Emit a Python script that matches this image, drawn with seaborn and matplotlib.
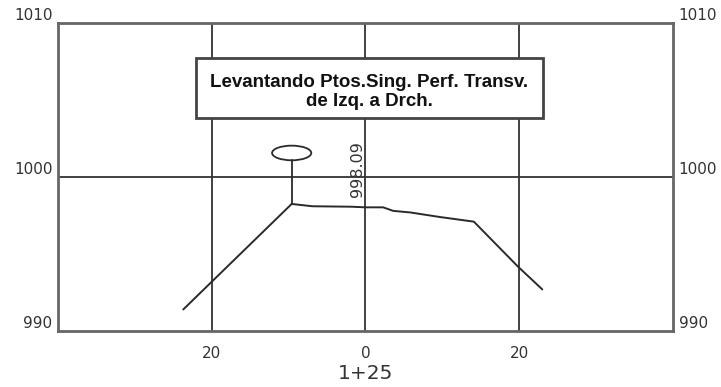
import matplotlib
matplotlib.use("Agg")
import matplotlib.pyplot as plt
from matplotlib.patches import Ellipse, Rectangle
import seaborn as sns
import pandas as pd

# profile data (offset from axis in m, elevation in m)
offsets = [-23.7, -9.6, -6.9, -1.8, 0.0, 2.3, 3.6, 5.8, 9.7, 14.1, 19.8, 23.0]
elevs = [991.4, 998.25, 998.1, 998.07, 998.03, 998.03, 997.8, 997.7, 997.4, 997.1, 994.2, 992.7]

x_ticks = [-20, 0, 20]
x_tick_labels = ["20", "0", "20"]
y_ticks = [990, 1000, 1010]
y_tick_labels = ["990", "1000", "1010"]

station = "1+25"
axis_elev = "998.09"
title = "Levantando Ptos.Sing. Perf. Transv.\nde Izq. a Drch."
tree_x = -9.6
tree_base = 998.25
tree_top = 1001.1

sns.set_style("white")
plt.rcParams["font.family"] = ["DejaVu Sans"]

df = pd.DataFrame({"offset": offsets, "elev": elevs})

fig = plt.figure(figsize=(7.21, 3.87), dpi=100)
ax = fig.add_axes([0.0804, 0.1447, 0.853, 0.7959])

sns.lineplot(data=df, x="offset", y="elev", ax=ax, color="#2a2a2a", linewidth=1.4)

ax.set_xlim(-40, 40)
ax.set_ylim(990, 1010)

# grid lines
for xv in x_ticks:
    ax.axvline(xv, color="#333333", linewidth=1.3, zorder=0)
ax.axhline(1000, color="#333333", linewidth=1.3, zorder=0)

# tree symbol
ax.plot([tree_x, tree_x], [tree_base, tree_top], color="#2a2a2a", linewidth=1.3)
ax.add_patch(Ellipse((tree_x, tree_top + 0.46), 5.1, 0.95, fill=False,
                     edgecolor="#2a2a2a", linewidth=1.3))

# elevation at axis
ax.text(-1.0, 998.7, axis_elev, rotation=90, ha="center", va="bottom",
        fontsize=11.5, color="#333333")

# title box
ax.add_patch(Rectangle((-22.0, 1003.83), 45.1, 3.9, facecolor="white",
                       edgecolor="#444444", linewidth=2, zorder=3))
ax.text(0.5, 1005.5, title, ha="center", va="center", fontsize=13.5,
        fontweight="bold", linespacing=1.15, color="#111111", zorder=4,
        family=["Liberation Sans"])

ax.set_xticks(x_ticks)
ax.set_xticklabels(x_tick_labels, fontsize=11, color="#333333")
ax.set_yticks(y_ticks)
ax.set_yticklabels(y_tick_labels, fontsize=11, color="#333333", va="bottom")
ax.tick_params(axis="both", length=0)
ax.tick_params(axis="x", pad=11)
ax.tick_params(axis="y", pad=4, labelright=True)
ax.set_xlabel(station, fontsize=14.5, color="#333333", labelpad=2)
ax.set_ylabel("")

for sp in ax.spines.values():
    sp.set_visible(True)
    sp.set_color("#666666")
    sp.set_linewidth(2)

fig.savefig("out.png", dpi=100)
